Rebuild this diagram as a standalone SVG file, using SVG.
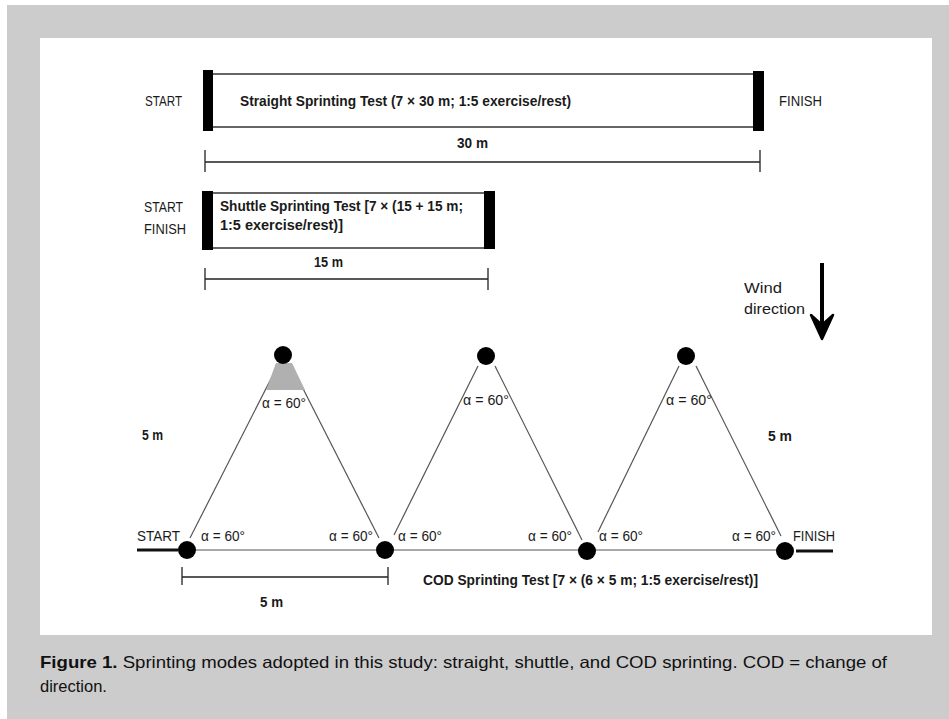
<svg xmlns="http://www.w3.org/2000/svg" width="949" height="719" viewBox="0 0 949 719">
<style>
.t{font-family:"Liberation Sans",Arial,sans-serif;fill:#1a1a1a}
.b{font-weight:bold}
.r{font-size:14px}
.m{font-size:15px}
.dim{stroke:#222;stroke-width:1.3;fill:none}
.edge{stroke:#555;stroke-width:1.2;fill:none}
.bar{fill:#000}
.lane{stroke:#333;stroke-width:1.5}
.cap{font-family:"Liberation Sans",Arial,Helvetica,sans-serif;font-size:16.5px;fill:#111}
</style>
<rect x="0" y="0" width="949" height="719" fill="#fff"/>
<rect x="7" y="5" width="942" height="714" fill="#cccccc"/>
<rect x="40" y="38" width="892" height="597" fill="#fff"/>

<g id="straight">
<line class="lane" x1="208" y1="74" x2="758" y2="74"/>
<line class="lane" x1="208" y1="127" x2="758" y2="127"/>
<rect class="bar" x="203" y="70" width="10" height="61"/>
<rect class="bar" x="753" y="71" width="11" height="60"/>
<text class="t r" x="145" y="106" textLength="37" lengthAdjust="spacingAndGlyphs">START</text>
<text class="t r" x="779" y="106" textLength="43" lengthAdjust="spacingAndGlyphs">FINISH</text>
<text class="t b m" x="240" y="106" textLength="331" lengthAdjust="spacingAndGlyphs">Straight Sprinting Test (7 × 30 m; 1:5 exercise/rest)</text>
</g>
<g id="dim30">
<path class="dim" d="M205 162H760M205 150V172M760 150V172"/>
<text class="t b m" x="457" y="148" textLength="31" lengthAdjust="spacingAndGlyphs">30 m</text>
</g>

<g id="shuttle">
<line class="lane" x1="208" y1="193" x2="490" y2="193"/>
<line class="lane" x1="208" y1="248" x2="490" y2="248"/>
<rect class="bar" x="202" y="191" width="11" height="59"/>
<rect class="bar" x="484" y="191" width="11" height="58"/>
<text class="t r" x="144" y="212" textLength="39" lengthAdjust="spacingAndGlyphs">START</text>
<text class="t r" x="144" y="234" textLength="42" lengthAdjust="spacingAndGlyphs">FINISH</text>
<text class="t b m" x="220" y="211" textLength="243" lengthAdjust="spacingAndGlyphs">Shuttle Sprinting Test [7 × (15 + 15 m;</text>
<text class="t b m" x="220" y="230" textLength="123" lengthAdjust="spacingAndGlyphs">1:5 exercise/rest)]</text>
</g>
<g id="dim15">
<path class="dim" d="M205 279H488M205 268V290M488 268V290"/>
<text class="t b m" x="314" y="267" textLength="29" lengthAdjust="spacingAndGlyphs">15 m</text>
</g>

<g id="wind">
<text class="t" x="744" y="293" font-size="15.5" textLength="38" lengthAdjust="spacingAndGlyphs">Wind</text>
<text class="t" x="744" y="314" font-size="15.5" textLength="61" lengthAdjust="spacingAndGlyphs">direction</text>
<line x1="822" y1="263" x2="822" y2="328" stroke="#000" stroke-width="4"/>
<path d="M811 315 L822 339 L833 315 L822 325 Z" fill="#000" stroke="#000" stroke-width="2.5" stroke-linejoin="round"/>
</g>

<g id="connectors">
<line class="edge" x1="187" y1="550" x2="785" y2="550"/>
<line class="edge" x1="190" y1="538" x2="278" y2="365"/>
<line class="edge" x1="291" y1="365" x2="379" y2="538"/>
<line class="edge" x1="394" y1="535" x2="478" y2="366"/>
<line class="edge" x1="495" y1="366" x2="582" y2="540"/>
<line class="edge" x1="598" y1="532" x2="679" y2="366"/>
<line class="edge" x1="696" y1="366" x2="781" y2="536"/>
<line x1="137" y1="550" x2="178" y2="550" stroke="#111" stroke-width="3"/>
<line x1="796" y1="551" x2="833" y2="551" stroke="#111" stroke-width="3"/>
</g>

<g id="wedge">
<polygon points="276,363 292,363 305,390 266,390" fill="#b0b0b0"/>
</g>

<g id="cone-top1"><circle cx="283" cy="355" r="9" fill="#000"/></g>
<g id="cone-top2"><circle cx="486" cy="356" r="9" fill="#000"/></g>
<g id="cone-top3"><circle cx="686" cy="356" r="9" fill="#000"/></g>
<g id="cone-b1"><circle cx="187" cy="550" r="9" fill="#000"/></g>
<g id="cone-b2"><circle cx="385" cy="550" r="9" fill="#000"/></g>
<g id="cone-b3"><circle cx="587" cy="551" r="9" fill="#000"/></g>
<g id="cone-b4"><circle cx="785" cy="551" r="9" fill="#000"/></g>

<g id="cod-labels">
<text class="t r" x="262" y="408" textLength="44" lengthAdjust="spacingAndGlyphs">α = 60°</text>
<text class="t r" x="463" y="405" textLength="46" lengthAdjust="spacingAndGlyphs">α = 60°</text>
<text class="t r" x="666" y="405" textLength="46" lengthAdjust="spacingAndGlyphs">α = 60°</text>
<text class="t r" x="201" y="541" textLength="44" lengthAdjust="spacingAndGlyphs">α = 60°</text>
<text class="t r" x="329" y="541" textLength="44" lengthAdjust="spacingAndGlyphs">α = 60°</text>
<text class="t r" x="398" y="541" textLength="44" lengthAdjust="spacingAndGlyphs">α = 60°</text>
<text class="t r" x="528" y="541" textLength="44" lengthAdjust="spacingAndGlyphs">α = 60°</text>
<text class="t r" x="599" y="541" textLength="44" lengthAdjust="spacingAndGlyphs">α = 60°</text>
<text class="t r" x="732" y="541" textLength="44" lengthAdjust="spacingAndGlyphs">α = 60°</text>
<text class="t r" x="137" y="541" textLength="43" lengthAdjust="spacingAndGlyphs">START</text>
<text class="t r" x="793" y="541" textLength="42" lengthAdjust="spacingAndGlyphs">FINISH</text>
<text class="t b m" x="142" y="440" textLength="21" lengthAdjust="spacingAndGlyphs">5 m</text>
<text class="t b m" x="768" y="441" textLength="24" lengthAdjust="spacingAndGlyphs">5 m</text>
<text class="t b m" x="423" y="585" textLength="335" lengthAdjust="spacingAndGlyphs">COD Sprinting Test [7 × (6 × 5 m; 1:5 exercise/rest)]</text>
</g>
<g id="dim5">
<path class="dim" d="M182 577H388M182 567V585M388 567V585"/>
<text class="t b m" x="260" y="607" textLength="23" lengthAdjust="spacingAndGlyphs">5 m</text>
</g>

<g id="caption">
<text class="cap" x="40" y="668" textLength="847" lengthAdjust="spacingAndGlyphs"><tspan font-weight="bold">Figure 1.</tspan> Sprinting modes adopted in this study: straight, shuttle, and COD sprinting. COD = change of</text>
<text class="cap" x="40" y="692">direction.</text>
</g>
</svg>
